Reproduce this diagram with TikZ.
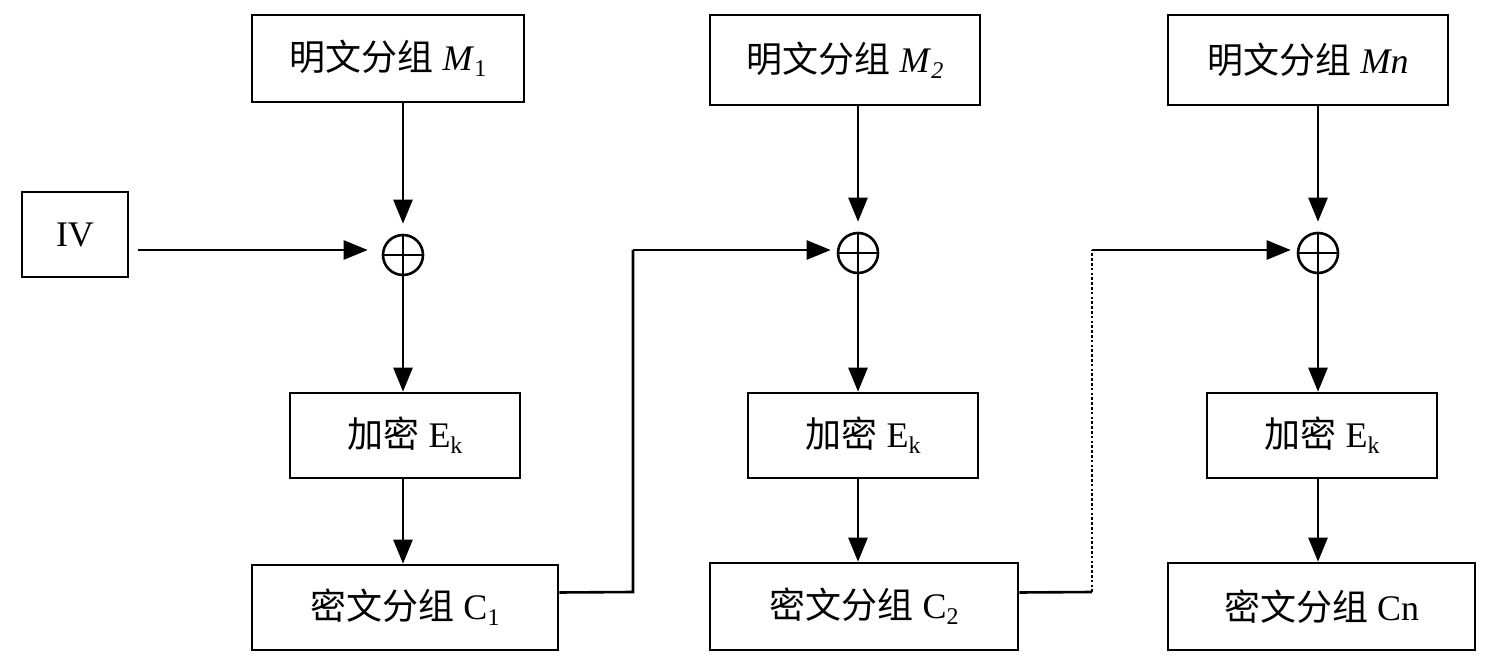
\documentclass[tikz,border=0pt]{standalone}
\usepackage{fontspec}
\setmainfont{Liberation Serif}
\newfontfamily\cjk{Noto Sans CJK SC}
\usetikzlibrary{arrows.meta}
\newcommand\mysub[1]{\raisebox{-0.35ex}{\fontsize{24}{26}\selectfont #1}}
\begin{document}
\begin{tikzpicture}[x=1pt,y=-1pt,
  box/.style={draw,line width=2.6pt,inner sep=0pt,font=\fontsize{36}{42}\selectfont},
  arr/.style={line width=2.6pt,-{Triangle[length=24pt,width=19pt]}},
  ln/.style={line width=2.6pt},
  xorc/.style={circle,draw,line width=2.6pt,minimum size=40pt,inner sep=0pt,
    path picture={\draw[line width=2.6pt] (path picture bounding box.north) -- (path picture bounding box.south)
      (path picture bounding box.west) -- (path picture bounding box.east);}}]
\useasboundingbox (0,0) rectangle (1492,668);
% column 1
\node[box,minimum width=272pt,minimum height=87pt] (p1) at (388,58.5) {{\cjk 明文分组} \textit{M}\mysub{1}};
\node[xorc] (x1) at (403,255) {};
\node[box,minimum width=230pt,minimum height=85pt] (e1) at (405,435.5) {{\cjk 加密} E\mysub{k}};
\node[box,minimum width=306pt,minimum height=85pt] (c1) at (405,607.5) {{\cjk 密文分组} C\mysub{1}};
\node[box,minimum width=106pt,minimum height=85pt] (iv) at (75,234.5) {IV};
% column 2
\node[box,minimum width=270pt,minimum height=90pt] (p2) at (845,60) {{\cjk 明文分组} \textit{M}\mysub{\textit{2}}};
\node[xorc] (x2) at (858,253) {};
\node[box,minimum width=230pt,minimum height=85pt] (e2) at (863,435.5) {{\cjk 加密} E\mysub{k}};
\node[box,minimum width=308pt,minimum height=87pt] (c2) at (864,606.5) {{\cjk 密文分组} C\mysub{2}};
% column 3
\node[box,minimum width=280pt,minimum height=90pt] (p3) at (1308,60) {{\cjk 明文分组} \textit{Mn}};
\node[xorc] (x3) at (1318,253) {};
\node[box,minimum width=230pt,minimum height=85pt] (e3) at (1322,435.5) {{\cjk 加密} E\mysub{k}};
\node[box,minimum width=307pt,minimum height=87pt] (c3) at (1321.5,606.5) {{\cjk 密文分组} Cn};
% coordinates
\coordinate (iva) at (128,250);
\coordinate (k1a) at (633,592);
\coordinate (k1b) at (633,250);
\coordinate (k2a) at (1092,592);
\coordinate (k2b) at (1092,250);
% connectors
\foreach \i in {1,2,3}{
  \draw[arr,shorten >=10pt] (x\i |- p\i.south) -- (x\i);
  \draw[arr] (x\i) -- (x\i |- e\i.north);
  \draw[arr] (x\i |- e\i.south) -- (x\i |- c\i.north);
}
\draw[arr,shorten <=10pt,shorten >=14pt] (iva) -- (iva -| x1.west);
\draw[ln] ([yshift=15pt]c1.east) -- (k1a) -- (k1b);
\draw[arr,shorten >=6pt] (k1b) -- (k1b -| x2.west);
\draw[ln] ([yshift=14pt]c2.east) -- (k2a);
\draw[line width=2.6pt,dash pattern=on 2.6pt off 2.2pt] (k2a) -- (k2b);
\draw[arr,shorten >=6pt] (k2b) -- (k2b -| x3.west);
\end{tikzpicture}
\end{document}
